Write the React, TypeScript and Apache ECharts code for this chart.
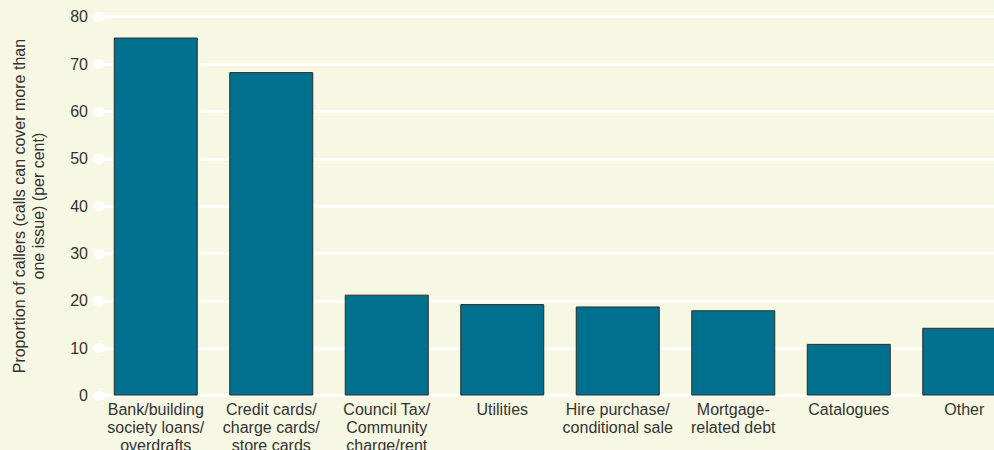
import React, { useEffect, useRef } from "react";
import * as echarts from "echarts";

const categories = [
  "Bank/building\nsociety loans/\noverdrafts",
  "Credit cards/\ncharge cards/\nstore cards",
  "Council Tax/\nCommunity\ncharge/rent",
  "Utilities",
  "Hire purchase/\nconditional sale",
  "Mortgage-\nrelated debt",
  "Catalogues",
  "Other",
];
const values = [75.6, 68.3, 21.3, 19.3, 18.8, 18.0, 10.9, 14.3];
const yAxisName = "Proportion of callers (calls can cover more than\none issue) (per cent)";

export default function App() {
  const ref = useRef<HTMLDivElement>(null);
  useEffect(() => {
    if (!ref.current) return;
    const chart = echarts.init(ref.current, null, { renderer: "svg" });
    const textColor = "#333333";
    chart.setOption({
      animation: false,
      backgroundColor: "#F7F8E3",
      textStyle: { fontFamily: "Liberation Sans, Arial, sans-serif" },
      grid: {
        left: 98,
        right: 8,
        top: 16.7,
        bottom: 54.5,
        containLabel: false,
        outerBoundsMode: "none",
      },
      xAxis: {
        type: "category",
        data: categories,
        axisLine: { show: false },
        axisTick: { show: false },
        axisLabel: {
          interval: 0,
          color: textColor,
          fontSize: 16,
          lineHeight: 18,
          margin: 5,
          hideOverlap: false,
        },
      },
      yAxis: {
        type: "value",
        min: 0,
        max: 80,
        interval: 10,
        name: yAxisName,
        nameLocation: "middle",
        nameGap: 50,
        nameTextStyle: { color: textColor, fontSize: 16, lineHeight: 19 },
        axisLine: { show: false },
        axisTick: {
          show: true,
          inside: true,
          length: 2,
          lineStyle: { color: "#ffffff", width: 10, cap: "round" },
        },
        axisLabel: { color: textColor, fontSize: 16, margin: 10 },
        splitLine: { show: true, lineStyle: { color: "#ffffff", width: 3 } },
      },
      series: [
        {
          type: "bar",
          data: values,
          barWidth: 84,
          itemStyle: { color: "#00708F", borderColor: "#2b2b2b", borderWidth: 1 },
        },
      ],
    });
    return () => chart.dispose();
  }, []);
  return (
    <div
      style={{
        position: "fixed",
        left: 0,
        top: 0,
        width: 994,
        height: 450,
        overflow: "hidden",
        background: "#F7F8E3",
      }}
    >
      <div ref={ref} style={{ width: 1030, height: 450 }} />
    </div>
  );
}
